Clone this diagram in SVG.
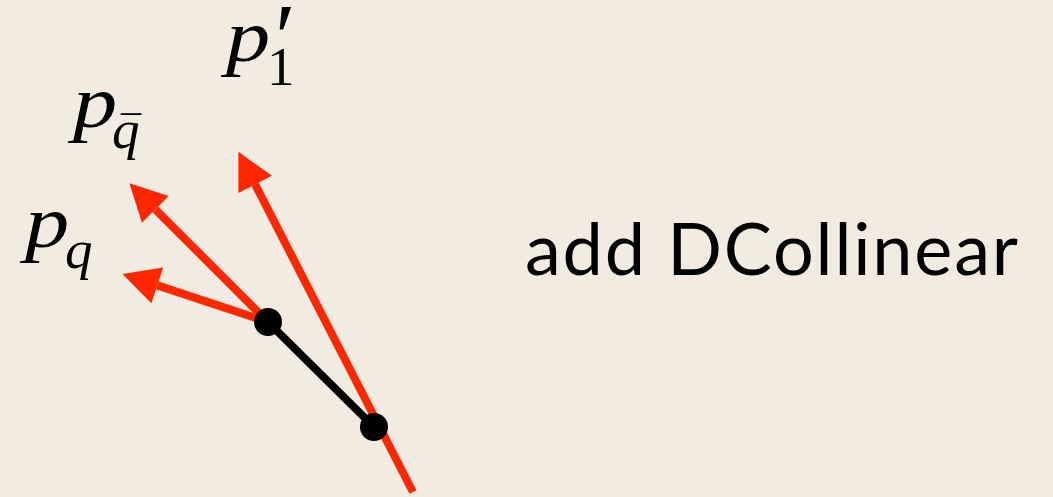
<svg xmlns="http://www.w3.org/2000/svg" width="1053" height="497" viewBox="0 0 1053 497">
  <style>
    .vec { stroke: #FF2600; stroke-width: 8; fill: none; stroke-linecap: butt; }
    .seg { stroke: #000; stroke-width: 8; stroke-linecap: round; }
    .pt { fill: #000; }
    text.math { font-family: "Liberation Serif", serif; fill: #000; }
    text.it { font-style: italic; }
    text.big { font-size: 75px; }
    text.sub { font-size: 55px; }
    text.title { font-family: "Lato", sans-serif; font-size: 72px; fill: #000; }
  </style>
  <defs>
    <marker id="head" markerUnits="userSpaceOnUse" markerWidth="40" markerHeight="40" viewBox="0 -18 34 36" refX="0" refY="0" orient="auto">
      <path d="M0,-17 L33,0 L0,17 Z" fill="#FF2600"/>
    </marker>
  </defs>
  <rect width="1053" height="497" fill="#F2EBE1"/>

  <!-- momentum vectors -->
  <g id="connectors">
    <line class="vec" x1="413" y1="492" x2="255.1" y2="184.4" marker-end="url(#head)"/>
    <line class="vec" x1="268" y1="322" x2="155.3" y2="209.3" marker-end="url(#head)"/>
    <line class="vec" x1="268" y1="322" x2="157.3" y2="285.4" marker-end="url(#head)"/>
    <line class="seg" x1="268" y1="322" x2="374" y2="427"/>
  </g>

  <g id="vertex-a"><circle class="pt" cx="268" cy="322" r="14"/></g>
  <g id="vertex-b"><circle class="pt" cx="374" cy="427" r="14"/></g>

  <!-- labels -->
  <g id="label-p1prime">
    <text class="math it big" transform="translate(226,61) scale(1.18,1)">p</text>
    <text class="math sub" x="267" y="85">1</text>
    <text class="math" x="275" y="70" font-size="95">′</text>
  </g>
  <g id="label-pqbar">
    <text class="math it big" transform="translate(73,127) scale(1.18,1)">p</text>
    <text class="math it sub" x="112" y="148">q</text>
    <text class="math" x="121" y="144" font-size="40">¯</text>
  </g>
  <g id="label-pq">
    <text class="math it big" transform="translate(25,247) scale(1.18,1)">p</text>
    <text class="math it sub" x="65" y="268">q</text>
  </g>

  <g id="caption">
    <text class="title" x="525" y="275" textLength="493" lengthAdjust="spacing">add DCollinear</text>
  </g>
</svg>
